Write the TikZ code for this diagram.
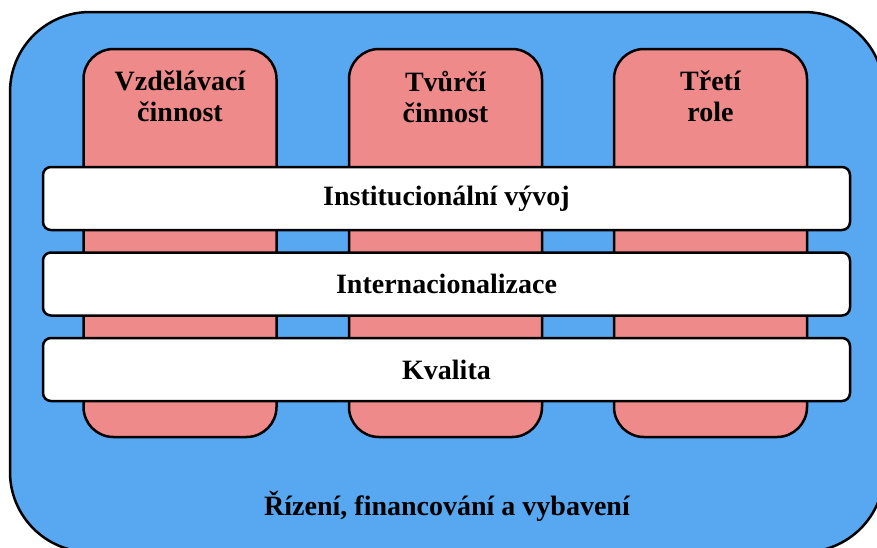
\documentclass[tikz,border=0pt]{standalone}
\usepackage{fontspec}
\setmainfont{Liberation Serif}
\usetikzlibrary{positioning}
\definecolor{frameblue}{RGB}{88,168,241}
\definecolor{pillarpink}{RGB}{238,138,138}

\begin{document}
\begin{tikzpicture}[x=1pt,y=-1pt,line width=2.5pt,node distance=20pt,
    frame/.style={draw,fill=frameblue,rounded corners=80pt,minimum width=874pt,minimum height=540pt},
    pillar/.style={draw,fill=pillarpink,rounded corners=30pt,minimum width=193pt,minimum height=388pt},
    layer/.style={draw,fill=white,rounded corners=8pt,minimum width=807pt,minimum height=63pt,font=\bfseries\fontsize{28}{31}\selectfont},
    caption/.style={font=\bfseries\fontsize{28}{31}\selectfont,align=center,inner sep=0pt}]
    \path[use as bounding box,clip] (0,0) rectangle (877,547);
    \node[frame] (frame) at (447,282) {};
    % pillars
    \node[pillar] (edu) at (180,243) {};
    \node[pillar] (create) at (445.5,243) {};
    \node[pillar] (third) at (710.5,243) {};
    \node[caption] (edutext) at ([yshift=-49pt]edu.north) {Vzdělávací\\činnost};
    \node[caption] (createtext) at ([yshift=-49pt]create.north) {Tvůrčí\\činnost};
    \node[caption] (thirdtext) at ([yshift=-49pt]third.north) {Třetí\\role};
    % layers
    \node[layer] (inst) at (446.5,198.5) {Institucionální vývoj};
    \node[layer] (intl) [below=of inst] {Internacionalizace};
    \node[layer] (qual) [below=of intl] {Kvalita};
    \node[caption] (mgmt) at (447,506) {Řízení, financování a vybavení};
\end{tikzpicture}
\end{document}
